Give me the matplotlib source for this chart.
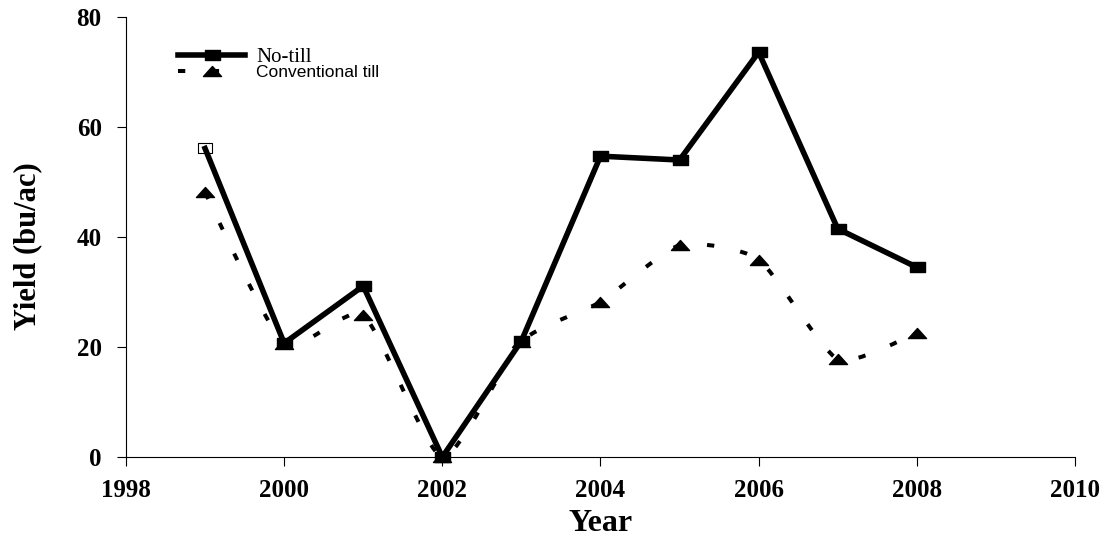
import matplotlib
matplotlib.use('Agg')
import matplotlib.pyplot as plt
import numpy as np
from matplotlib.path import Path
from matplotlib.patches import PathPatch
from matplotlib.lines import Line2D

years = [1999, 2000, 2001, 2002, 2003, 2004, 2005, 2006, 2007, 2008]
no_till = [56.1, 20.7, 31.1, 0.0, 21.1, 54.7, 54.0, 73.6, 41.5, 34.5]
conv_till = [48.1, 20.6, 25.8, 0.0, 21.0, 28.2, 38.5, 35.9, 17.8, 22.6]
labels = ['No-till', 'Conventional till']
xticks = [1998, 2000, 2002, 2004, 2006, 2008, 2010]
yticks = [0, 20, 40, 60, 80]

plt.rcParams['font.family'] = 'Liberation Serif'

# wide-ish markers, the original picture is stretched sideways
rectMarker = Path([(-1.5, -1), (1.5, -1), (1.5, 1), (-1.5, 1), (-1.5, -1)],
                  [Path.MOVETO, Path.LINETO, Path.LINETO, Path.LINETO, Path.CLOSEPOLY])
triMarker = Path([(-0.9, -0.5), (0.9, -0.5), (0, 0.5), (-0.9, -0.5)],
                 [Path.MOVETO, Path.LINETO, Path.LINETO, Path.CLOSEPOLY])


def smoothPath(xs, ys, k=1.0 / 10):
    pts = np.column_stack([xs, ys]).astype(float)
    n = len(pts)
    verts = [pts[0]]
    codes = [Path.MOVETO]
    for i in range(n - 1):
        p0 = pts[max(i - 1, 0)]
        p1 = pts[i]
        p2 = pts[i + 1]
        p3 = pts[min(i + 2, n - 1)]
        verts += [p1 + (p2 - p0) * k, p2 - (p3 - p1) * k, p2]
        codes += [Path.CURVE4] * 3
    return Path(verts, codes)


fig = plt.figure(figsize=(11.12, 5.39), dpi=100)
ax = fig.add_axes([0.1133, 0.152, 0.8534, 0.8165])

dashStyle = (0, (1.8, 6.6))
curve = PathPatch(smoothPath(years, conv_till), facecolor='none', edgecolor='black',
                  linewidth=2.9, linestyle=dashStyle, capstyle='butt', zorder=2)
ax.add_patch(curve)
ax.plot(years, conv_till, linestyle='none', marker=triMarker, markersize=13,
        color='black', clip_on=False, zorder=3)

ax.plot(years[:1], no_till[:1], linestyle='none', marker=rectMarker, markersize=10,
        markerfacecolor='white', markeredgecolor='black', markeredgewidth=0.8,
        clip_on=False, zorder=3)
ax.plot(years, no_till, color='black', linewidth=4, marker=rectMarker, markersize=10.8,
        markevery=slice(1, None), clip_on=False, zorder=4)

ax.set_xlim(1998, 2010)
ax.set_ylim(0, 80)
ax.set_xticks(xticks)
ax.set_yticks(yticks)
ax.spines['top'].set_visible(False)
ax.spines['right'].set_visible(False)
for s in ['left', 'bottom']:
    ax.spines[s].set_linewidth(0.8)
ax.tick_params(direction='out', length=6.5, width=0.8, labelsize=18)
ax.tick_params(axis='y', pad=11)
ax.tick_params(axis='x', pad=9)
for lab in ax.get_xticklabels() + ax.get_yticklabels():
    lab.set_fontweight('bold')

ax.set_xlabel('Year', fontsize=23, fontweight='bold', va='bottom')
ax.set_ylabel('Yield (bu/ac)', fontsize=22, fontweight='bold')
ax.xaxis.set_label_coords(0.5, -0.184)
ax.yaxis.set_label_coords(-0.088, 0.48)

handles = [
    Line2D([], [], color='black', linewidth=4, marker=rectMarker, markersize=10.8),
    Line2D([], [], color='black', linewidth=2.9, linestyle=dashStyle,
           marker=triMarker, markersize=13, dash_capstyle='butt'),
]
leg = ax.legend(handles, labels, loc='upper left', bbox_to_anchor=(0.055, 0.93),
                frameon=False, prop={'size': 14}, handlelength=3.45,
                handletextpad=0.57, labelspacing=-0.15, borderpad=0, borderaxespad=0,
                numpoints=1)
leg.get_texts()[0].set_fontfamily('Liberation Serif')
leg.get_texts()[0].set_fontsize(15)
leg.get_texts()[1].set_fontfamily('Liberation Sans')
leg.get_texts()[1].set_fontsize(12.5)

fig.savefig('out.png', dpi=100)
